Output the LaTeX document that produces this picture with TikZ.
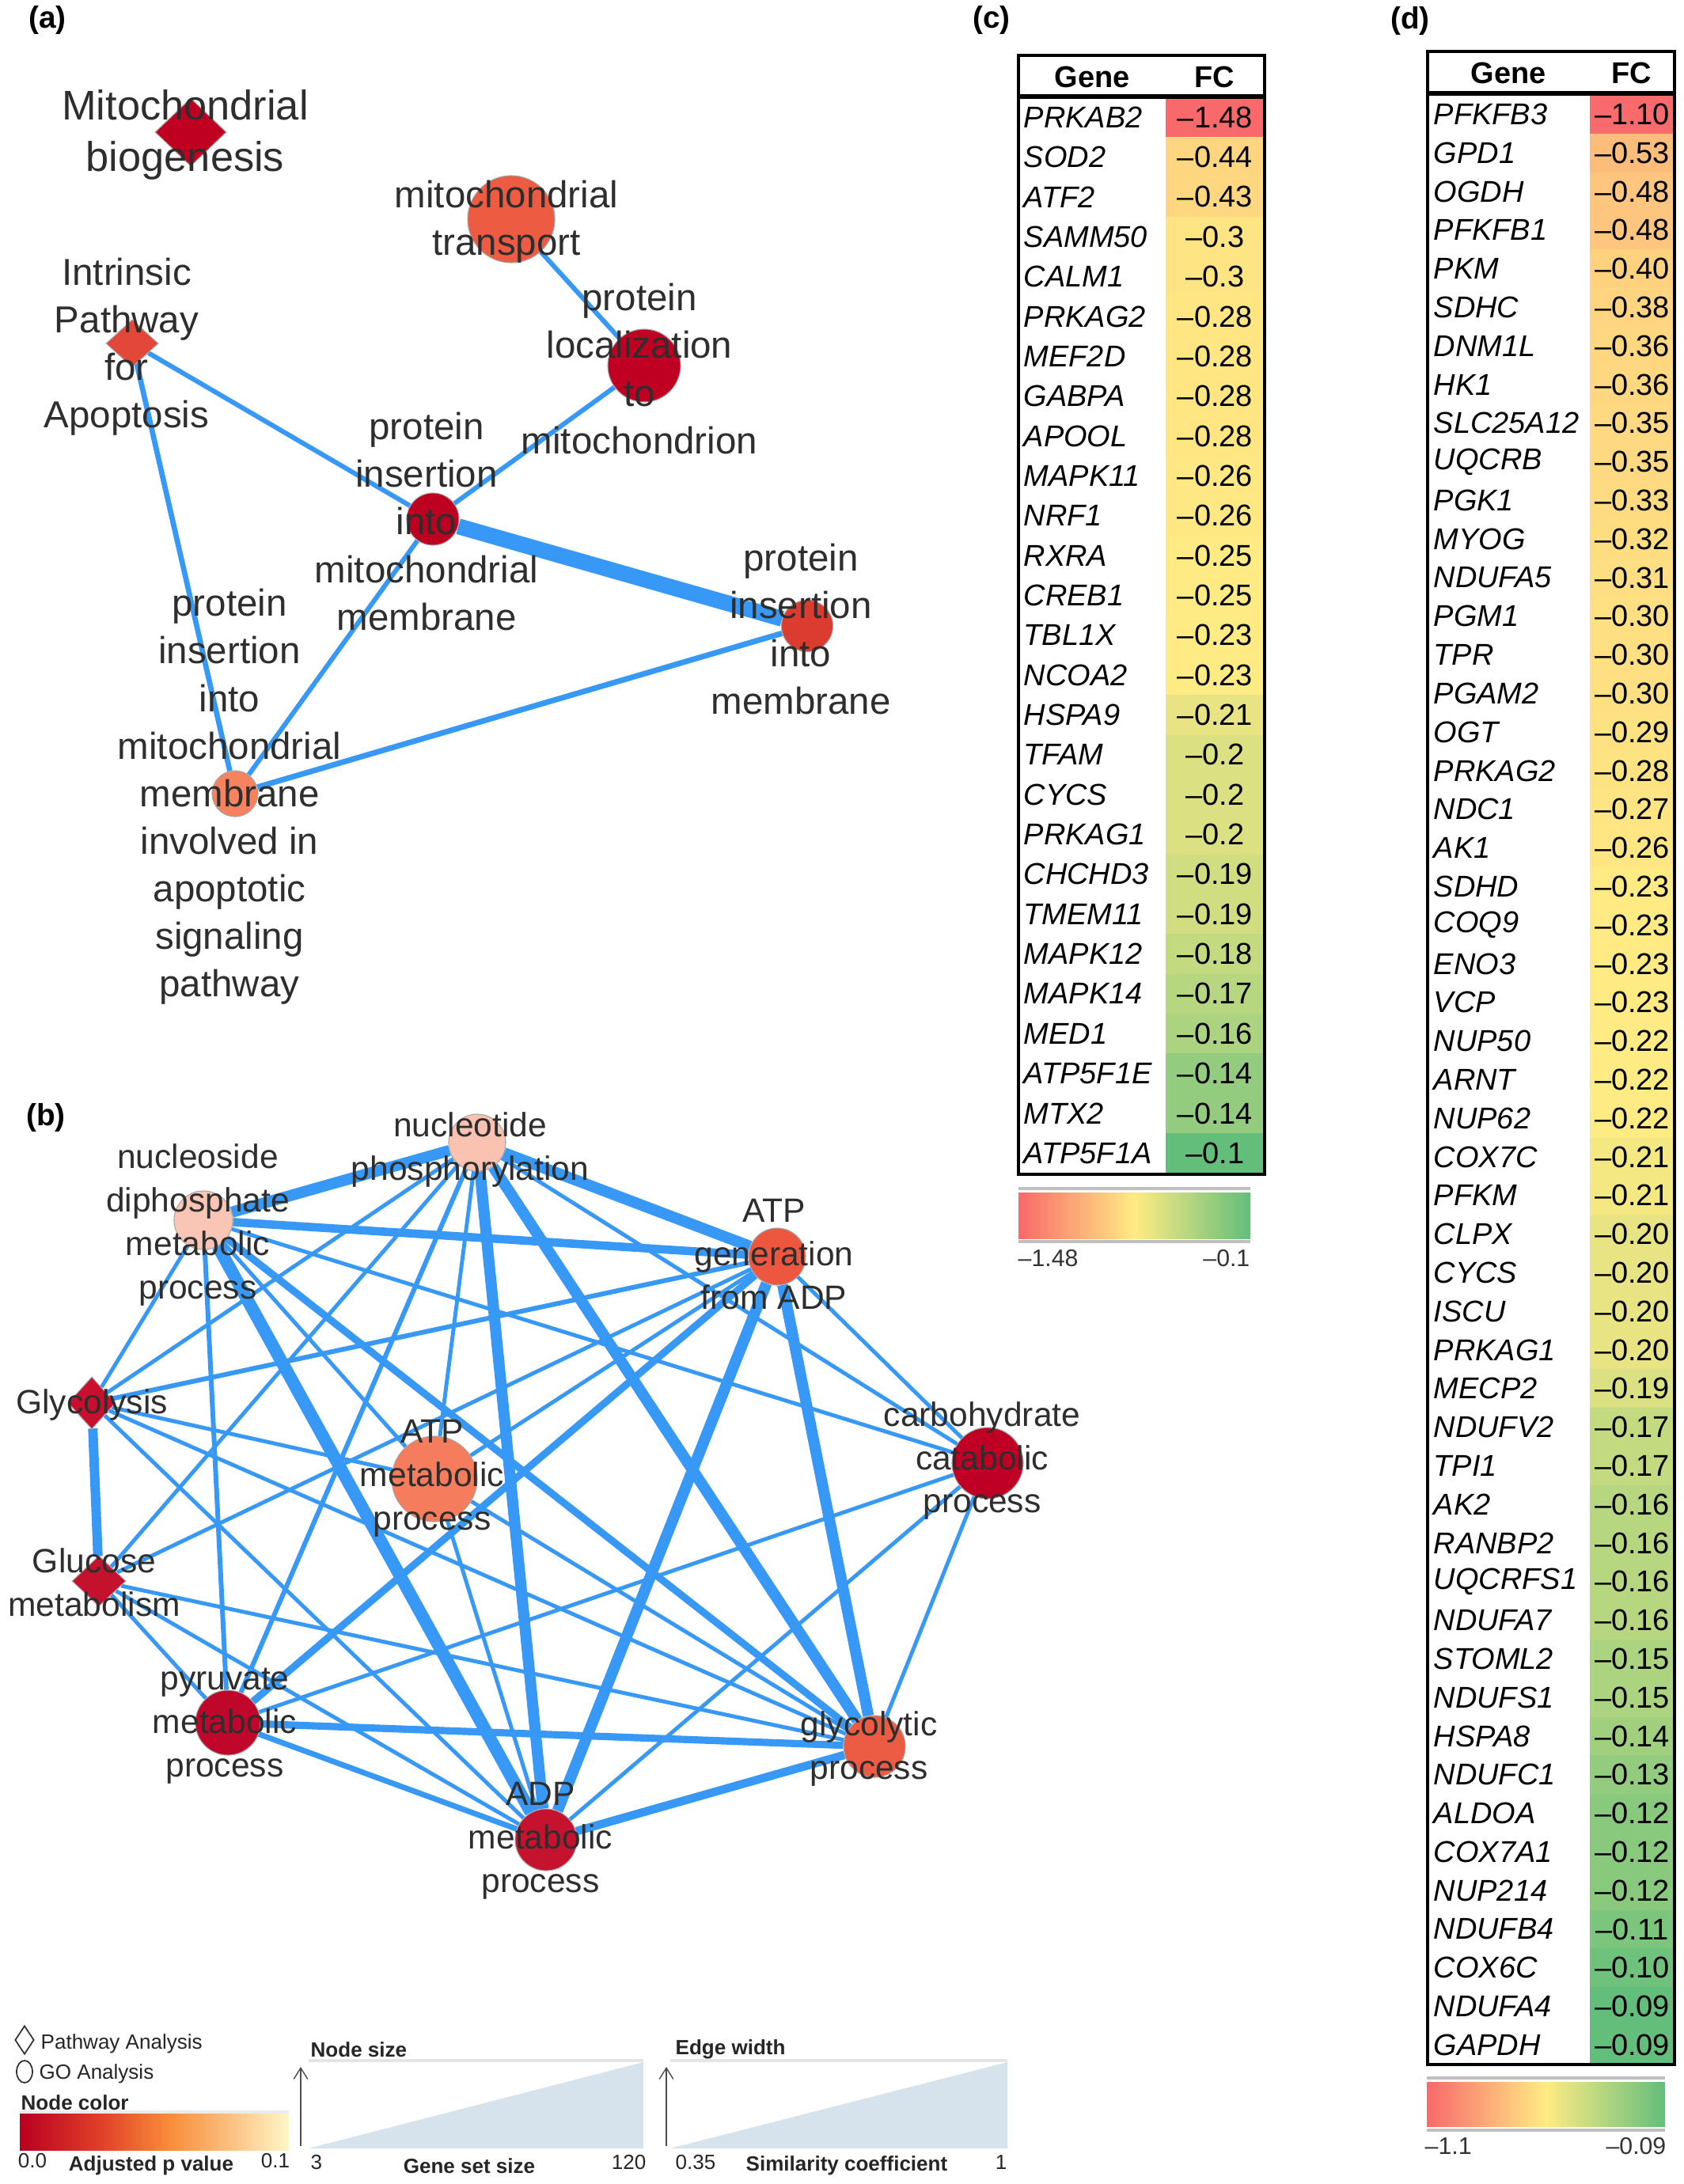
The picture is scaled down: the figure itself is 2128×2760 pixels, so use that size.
\documentclass[tikz,border=0pt]{standalone}
\usepackage{fontspec}
\setmainfont{Liberation Sans}
\usetikzlibrary{shapes.geometric,arrows.meta}
\pgfdeclarelayer{back}
\pgfdeclarelayer{bg}
\pgfsetlayers{back,bg,main}
\definecolor{edgeblue}{RGB}{55,152,245}
\definecolor{fcR}{HTML}{F8696B}
\definecolor{fcY}{HTML}{FFEB84}
\definecolor{fcG}{HTML}{63BE7B}
\definecolor{txt}{HTML}{2E2E2E}
\definecolor{cbio}{HTML}{C00020}
\definecolor{ctrans}{HTML}{EC5B42}
\definecolor{cloc}{HTML}{BF0022}
\definecolor{cintr}{HTML}{E2473A}
\definecolor{cinsm}{HTML}{BD0020}
\definecolor{cinsmem}{HTML}{DC3B2F}
\definecolor{capop}{HTML}{F6835F}
\definecolor{cnp}{HTML}{F9C2B1}
\definecolor{cnd}{HTML}{F9C6B5}
\definecolor{cag}{HTML}{ED5740}
\definecolor{cgl}{HTML}{C80F2E}
\definecolor{cgm}{HTML}{C4112E}
\definecolor{cam}{HTML}{F57C5C}
\definecolor{ccc}{HTML}{BF0024}
\definecolor{cpy}{HTML}{C0062A}
\definecolor{cgp}{HTML}{EC5B43}
\definecolor{cad}{HTML}{C5132F}
\definecolor{lgA}{HTML}{B80020}
\definecolor{lgB}{HTML}{E0402A}
\definecolor{lgC}{HTML}{F88B38}
\definecolor{lgD}{HTML}{FBC486}
\definecolor{lgE}{HTML}{FFF8C8}
\definecolor{boxblue}{HTML}{D6E3EC}
\pgfdeclarehorizontalshading{ylorrd}{100bp}{color(0bp)=(lgA); color(25bp)=(lgA); color(40bp)=(lgB); color(52.5bp)=(lgC); color(65bp)=(lgD); color(75bp)=(lgE); color(100bp)=(lgE)}
\pgfdeclarehorizontalshading{fcbar}{100bp}{color(0bp)=(fcR); color(25bp)=(fcR); color(50bp)=(fcY); color(75bp)=(fcG); color(100bp)=(fcG)}
\tikzset{
  gonode/.style={circle, inner sep=0pt, draw=black!35, line width=0.3pt},
  pwnode/.style={diamond, inner sep=0pt, draw=black!35, line width=0.3pt},
  lnk/.style={draw=edgeblue, line width=#1},
  lbla/.style={font=\fontsize{13.5}{17.1}\selectfont, text=txt, align=center, inner sep=0pt},
  lblb/.style={font=\fontsize{12.1}{15.6}\selectfont, text=txt, align=center, inner sep=0pt},
  plabel/.style={font=\fontsize{11}{13}\selectfont\bfseries, inner sep=0pt},
  genetxt/.style={anchor=west, font=\fontsize{10.8}{12}\selectfont\itshape, inner sep=0pt},
  valtxt/.style={font=\fontsize{10.8}{12}\selectfont, inner sep=0pt},
  hdr/.style={font=\fontsize{10.8}{12}\selectfont\bfseries, inner sep=0pt},
  cbl/.style={font=\fontsize{8.6}{10}\selectfont, text=black!80, inner sep=0pt},
  legt/.style={font=\fontsize{7.4}{9}\selectfont, text=black!85, inner sep=0pt},
  legb/.style={font=\fontsize{7.4}{9}\selectfont\bfseries, text=black!85, inner sep=0pt},
}
\begin{document}
\begin{tikzpicture}[x=0.01cm,y=-0.01cm]
\useasboundingbox (0,0) rectangle (2128,2760);
\begin{pgfonlayer}{back}
\fill[white] (0,0) rectangle (2128,2760);
\end{pgfonlayer}

% ---------- panel labels
\node[plabel] (pa) at (60,25) {(a)};
\node[plabel] (pb) at (58,1412) {(b)};
\node[plabel] (pc) at (1253,25) {(c)};
\node[plabel] (pd) at (1782,26) {(d)};

% ---------- panel (a) nodes
\node[pwnode, fill=cbio, minimum width=0.90cm, minimum height=0.86cm] (a_bio) at (241,167) {};
\node[gonode, fill=ctrans, minimum size=1.10cm] (a_trans) at (646,277) {};
\node[gonode, fill=cloc, minimum size=0.92cm] (a_loc) at (814,462) {};
\node[pwnode, fill=cintr, minimum width=0.66cm, minimum height=0.60cm] (a_intr) at (167,434) {};
\node[gonode, fill=cinsm, minimum size=0.66cm] (a_insm) at (547,656) {};
\node[gonode, fill=cinsmem, minimum size=0.65cm] (a_insmem) at (1020,791) {};
\node[gonode, fill=capop, minimum size=0.58cm] (a_apop) at (297,1003) {};

\begin{pgfonlayer}{bg}
\draw[lnk=1.7pt] (a_trans) -- (a_loc);
\draw[lnk=1.7pt] (a_loc) -- (a_insm);
\draw[lnk=1.7pt] (a_intr) -- (a_insm);
\draw[lnk=1.9pt] (a_intr) -- (a_apop);
\draw[lnk=5.7pt] (a_insm) -- (a_insmem);
\draw[lnk=1.7pt] (a_insm) -- (a_apop);
\draw[lnk=2pt] (a_apop) -- (a_insmem);
\end{pgfonlayer}

\node[lbla, font=\fontsize{14.9}{18.5}\selectfont] (la_bio) at (234,170) {Mitochondrial\\biogenesis};
\node[lbla] (la_trans) at (640,280) {mitochondrial\\transport};
\node[lbla] (la_loc) at (808,466) {protein\\localization\\to\\mitochondrion};
\node[lbla] (la_intr) at (160,438) {Intrinsic\\Pathway\\for\\Apoptosis};
\node[lbla] (la_insm) at (539,659) {protein\\insertion\\into\\mitochondrial\\membrane};
\node[lbla] (la_insmem) at (1012,795) {protein\\insertion\\into\\membrane};
\node[lbla] (la_apop) at (290,1007) {protein\\insertion\\into\\mitochondrial\\membrane\\involved in\\apoptotic\\signaling\\pathway};

% ---------- panel (b) nodes
\node[gonode, fill=cnp, minimum size=0.72cm] (b_np) at (603,1444) {};
\node[gonode, fill=cnd, minimum size=0.74cm] (b_nd) at (257,1542) {};
\node[gonode, fill=cag, minimum size=0.72cm] (b_ag) at (982,1588) {};
\node[pwnode, fill=cgl, minimum width=0.60cm, minimum height=0.66cm] (b_gl) at (116,1773) {};
\node[pwnode, fill=cgm, minimum width=0.68cm, minimum height=0.64cm] (b_gm) at (125,1998) {};
\node[gonode, fill=cam, minimum size=1.08cm] (b_am) at (549,1869) {};
\node[gonode, fill=ccc, minimum size=0.90cm] (b_cc) at (1248,1849) {};
\node[gonode, fill=cpy, minimum size=0.82cm] (b_py) at (288,2177) {};
\node[gonode, fill=cgp, minimum size=0.78cm] (b_gp) at (1105,2207) {};
\node[gonode, fill=cad, minimum size=0.78cm] (b_ad) at (690,2325) {};

\begin{pgfonlayer}{bg}
\foreach \u/\w/\lw in {np/nd/4pt, np/ag/4pt, np/gl/1.4pt, np/gm/1.4pt, np/am/1.4pt, np/py/1.7pt, np/ad/4pt, np/gp/4pt, np/cc/1.4pt,
  nd/ag/3pt, nd/gl/1.4pt, nd/py/1.7pt, nd/ad/4.5pt, nd/gp/2.6pt, nd/cc/1.4pt, nd/am/1.4pt,
  ag/gl/1.7pt, ag/gm/1.4pt, ag/py/2.6pt, ag/ad/4pt, ag/gp/4pt, ag/cc/1.4pt, ag/am/1.4pt,
  gl/gm/3.4pt, gl/ad/1.4pt, gl/gp/1.4pt, gl/am/1.4pt,
  gm/py/1.4pt, gm/ad/1.4pt, gm/gp/1.4pt,
  am/ad/1.4pt, am/gp/1.4pt,
  py/gp/2.6pt, py/ad/2pt, py/cc/1.4pt,
  ad/gp/3pt, ad/cc/1.4pt, cc/gp/1.4pt}
  {\draw[lnk=\lw] (b_\u) -- (b_\w);}
\end{pgfonlayer}

\node[lblb] (lb_np) at (594,1453) {nucleotide\\phosphorylation};
\node[lblb] (lb_nd) at (250,1548) {nucleoside\\diphosphate\\metabolic\\process};
\node[lblb] (lb_ag) at (978,1585) {ATP\\generation\\from ADP};
\node[lblb] (lb_gl) at (116,1775) {Glycolysis};
\node[lblb] (lb_gm) at (119,2000) {Glucose\\metabolism};
\node[lblb] (lb_am) at (546,1868) {ATP\\metabolic\\process};
\node[lblb] (lb_cc) at (1241,1846) {carbohydrate\\catabolic\\process};
\node[lblb] (lb_py) at (284,2181) {pyruvate\\metabolic\\process};
\node[lblb] (lb_gp) at (1098,2210) {glycolytic\\process};
\node[lblb] (lb_ad) at (683,2326) {ADP\\metabolic\\process};

% ---------- legend
\node[pwnode, draw=black!80, fill=white, line width=0.5pt, minimum width=0.24cm, minimum height=0.36cm] (legD) at (31,2578) {};
\node[legt, anchor=west] (legDt) at (51,2583) {Pathway Analysis};
\node[ellipse, draw=black!80, line width=0.5pt, inner sep=0pt, minimum width=0.20cm, minimum height=0.28cm] (legO) at (31,2618) {};
\node[legt, anchor=west] (legOt) at (49,2621) {GO Analysis};
\node[legb, anchor=west] (legNC) at (26,2657) {Node color};
\draw[black!8, line width=1pt] (25,2669) -- (365,2669);
\shade[shading=ylorrd] (25,2671) rectangle (365,2717);
\node[legt] (lg00) at (41,2731) {0.0};
\node[legt] (lg01) at (348,2731) {0.1};
\node[legb] (lgAP) at (191,2737) {Adjusted p value};

\node[legb, anchor=west] (legNS) at (392,2590) {Node size};
\draw[black!10, line width=1.2pt] (390,2604) -- (813,2604);
\fill[boxblue] (390,2715) -- (813,2606) -- (813,2715) -- cycle;
\coordinate (ns0) at (380,2712);
\coordinate (ns1) at (380,2612);
\draw[black!70, line width=0.4pt, -{Straight Barb[length=4pt,width=5pt]}] (ns0) -- (ns1);
\node[legt, anchor=west] (lg3) at (392,2733) {3};
\node[legb] (lgGS) at (593,2737) {Gene set size};
\node[legt, anchor=east] (lg120) at (817,2733) {120};

\node[legb, anchor=west] (legEW) at (853,2590) {Edge width};
\draw[black!10, line width=1.2pt] (847,2604) -- (1273,2604);
\fill[boxblue] (847,2715) -- (1273,2606) -- (1273,2715) -- cycle;
\coordinate (ew0) at (842,2712);
\coordinate (ew1) at (842,2612);
\draw[black!70, line width=0.4pt, -{Straight Barb[length=4pt,width=5pt]}] (ew0) -- (ew1);
\node[legt, anchor=west] (lg035) at (853,2733) {0.35};
\node[legb] (lgSC) at (1070,2737) {Similarity coefficient};
\node[legt, anchor=east] (lg1) at (1273,2733) {1};

% ---------- table (c)
\def\tabc{PRKAB2/1.48,SOD2/0.44,ATF2/0.43,SAMM50/0.3,CALM1/0.3,PRKAG2/0.28,MEF2D/0.28,GABPA/0.28,APOOL/0.28,MAPK11/0.26,NRF1/0.26,RXRA/0.25,CREB1/0.25,TBL1X/0.23,NCOA2/0.23,HSPA9/0.21,TFAM/0.2,CYCS/0.2,PRKAG1/0.2,CHCHD3/0.19,TMEM11/0.19,MAPK12/0.18,MAPK14/0.17,MED1/0.16,ATP5F1E/0.14,MTX2/0.14,ATP5F1A/0.1}
\foreach \g/\fc [count=\i from 0] in \tabc {
  \pgfmathsetmacro\yt{123+\i*50.35}
  \pgfmathsetmacro\yb{\yt+50.35}
  \pgfmathsetmacro\ym{\yt+25.2}
  \pgfmathtruncatemacro\pcR{max(0,min(100,100*(\fc-0.23)/1.25))}
  \pgfmathtruncatemacro\pcG{max(0,min(100,100*(0.23-\fc)/0.13))}
  \colorlet{tmpc}{fcR!\pcR!fcY}
  \colorlet{cellc}{fcG!\pcG!tmpc}
  \fill[cellc] (1473,\yt) rectangle (1598,\yb);
  \node[genetxt] (cg\i) at (1293,\ym) {\g};
  \node[valtxt] (cv\i) at (1535.5,\ym) {–\fc};
}
\draw[line width=0.9pt] (1287,70) rectangle (1598,1484);
\draw[line width=1.5pt] (1287,122) -- (1598,122);
\node[hdr] (ch1) at (1380,97) {Gene};
\node[hdr] (ch2) at (1535,97) {FC};
\draw[black!25, line width=1.2pt] (1287,1502) -- (1580,1502);
\draw[black!25, line width=1.2pt] (1287,1569) -- (1580,1569);
\shade[shading=fcbar] (1287,1507) rectangle (1580,1565);
\node[cbl, anchor=west] (cbc1) at (1286,1590) {–1.48};
\node[cbl, anchor=east] (cbc2) at (1580,1590) {–0.1};

% ---------- table (d)
\def\tabd{PFKFB3/1.10,GPD1/0.53,OGDH/0.48,PFKFB1/0.48,PKM/0.40,SDHC/0.38,DNM1L/0.36,HK1/0.36,SLC25A12/0.35,UQCRB/0.35,PGK1/0.33,MYOG/0.32,NDUFA5/0.31,PGM1/0.30,TPR/0.30,PGAM2/0.30,OGT/0.29,PRKAG2/0.28,NDC1/0.27,AK1/0.26,SDHD/0.23,COQ9/0.23,ENO3/0.23,VCP/0.23,NUP50/0.22,ARNT/0.22,NUP62/0.22,COX7C/0.21,PFKM/0.21,CLPX/0.20,CYCS/0.20,ISCU/0.20,PRKAG1/0.20,MECP2/0.19,NDUFV2/0.17,TPI1/0.17,AK2/0.16,RANBP2/0.16,UQCRFS1/0.16,NDUFA7/0.16,STOML2/0.15,NDUFS1/0.15,HSPA8/0.14,NDUFC1/0.13,ALDOA/0.12,COX7A1/0.12,NUP214/0.12,NDUFB4/0.11,COX6C/0.10,NDUFA4/0.09,GAPDH/0.09}
\foreach \g/\fc [count=\i from 0] in \tabd {
  \pgfmathsetmacro\yt{120+\i*48.8}
  \pgfmathsetmacro\yb{\yt+48.8}
  \pgfmathsetmacro\ym{\yt+24.4}
  \pgfmathtruncatemacro\pcR{max(0,min(100,100*(\fc-0.22)/0.88))}
  \pgfmathtruncatemacro\pcG{max(0,min(100,100*(0.22-\fc)/0.13))}
  \colorlet{tmpc}{fcR!\pcR!fcY}
  \colorlet{cellc}{fcG!\pcG!tmpc}
  \fill[cellc] (2009,\yt) rectangle (2116,\yb);
  \node[genetxt] (dg\i) at (1811,\ym) {\g};
  \node[valtxt] (dv\i) at (2062.5,\ym) {–\fc};
}
\draw[line width=0.9pt] (1804,65) rectangle (2116,2609);
\draw[line width=1.5pt] (1804,118) -- (2116,118);
\node[hdr] (dh1) at (1906,92) {Gene};
\node[hdr] (dh2) at (2062,92) {FC};
\draw[black!25, line width=1.2pt] (1803,2626) -- (2104,2626);
\draw[black!25, line width=1.2pt] (1803,2692) -- (2104,2692);
\shade[shading=fcbar] (1803,2631) rectangle (2104,2687);
\node[cbl, anchor=west] (cbd1) at (1800,2712) {–1.1};
\node[cbl, anchor=east] (cbd2) at (2106,2712) {–0.09};
\end{tikzpicture}
\end{document}
